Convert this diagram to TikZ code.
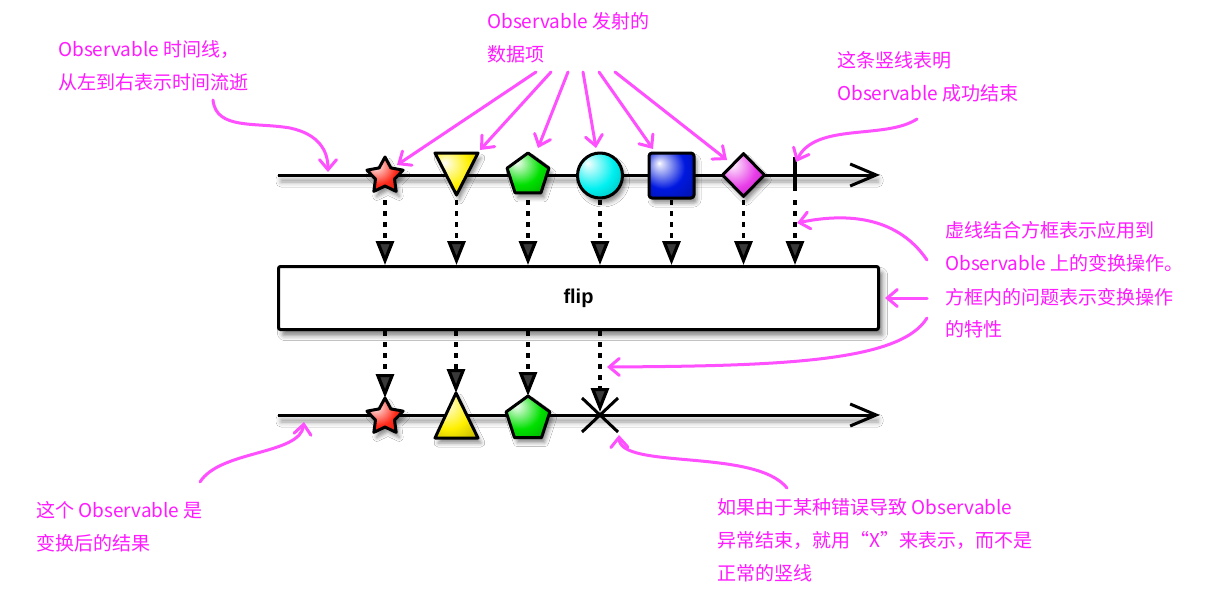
\documentclass[tikz,border=0pt]{standalone}
\usepackage{fontspec}
\setmainfont{Noto Sans CJK SC}
\newfontfamily\flipfont{Liberation Sans}
\usetikzlibrary{arrows.meta,shapes.geometric,shadows.blur}
\definecolor{magtext}{HTML}{FF1AFF}
\definecolor{magarrow}{HTML}{FF50FF}
\definecolor{cred}{HTML}{FF2A1A}
\definecolor{cyellow}{HTML}{FFF000}
\definecolor{cgreen}{HTML}{00E000}
\definecolor{ccyan}{HTML}{00F0F0}
\definecolor{cblue}{HTML}{0018E0}
\definecolor{cmag}{HTML}{E83CE8}
\colorlet{glosscol}{red}
\pgfdeclareradialshading[glosscol]{gloss}{\pgfpoint{-14bp}{14bp}}{%
 color(0bp)=(white); color(3bp)=(glosscol!15!white); color(24bp)=(glosscol); color(42bp)=(glosscol!75!black); color(70bp)=(glosscol!70!black)}
\tikzset{
 glosscolor/.code={\colorlet{glosscol}{#1}},
 glossy/.style={glosscolor=#1, shade, shading=gloss, draw=black, line width=3pt, line join=round},
 shshadow/.style={blur shadow={shadow xshift=3pt, shadow yshift=-5pt, shadow blur radius=4pt, shadow opacity=45}},
 timeline/.style={line width=3pt, -{Straight Barb[length=26pt,width=22pt]}},
 flow/.style={line width=3.2pt, dash pattern=on 5pt off 6pt, -{Triangle[length=24pt,width=18pt]}},
 note/.style={text=magtext, anchor=base west, inner sep=0pt, font=\fontsize{19pt}{23pt}\selectfont},
 callout/.style={magarrow, line width=3pt, line cap=round, -{Straight Barb[length=10pt,width=17pt,line cap=round]}},
}
\begin{document}
\begin{tikzpicture}[x=1pt,y=-1pt]
\useasboundingbox[fill=white] (0,0) rectangle (1210,600);

% ---- line shadows
\path[blur shadow={shadow xshift=2pt, shadow yshift=-5pt, shadow blur radius=5pt, shadow opacity=40}] (279,174) rectangle (876,177);
\path[blur shadow={shadow xshift=2pt, shadow yshift=-5pt, shadow blur radius=5pt, shadow opacity=40}] (279,414) rectangle (876,417);

% ---- timelines
\coordinate (L1s) at (278,175);
\coordinate (L1e) at (880,175);
\coordinate (L2s) at (278,415);
\coordinate (L2e) at (880,415);
\draw[timeline] (L1s) -- (L1e);
\draw[timeline] (L2s) -- (L2e);

% ---- top items
\node[star, star points=5, star point ratio=1.9, minimum size=38pt, inner sep=0pt, glossy=cred, shshadow] (s1) at (385,176) {};
\coordinate (t1a) at (435,153);
\coordinate (t1b) at (478,153);
\coordinate (t1c) at (456.5,195);
\draw[glossy=cyellow, shshadow] (t1a) -- (t1b) -- (t1c) -- cycle;
\node[regular polygon, regular polygon sides=5, minimum size=44pt, inner sep=0pt, glossy=cgreen, shshadow] (p1) at (528,175) {};
\node[circle, minimum size=45pt, inner sep=0pt, glossy=ccyan, shshadow] (c1) at (600,175.5) {};
\node[rectangle, rounded corners=3pt, minimum size=45pt, inner sep=0pt, glossy=cblue, shshadow] (q1) at (671.5,175.5) {};
\node[diamond, minimum width=43pt, minimum height=44pt, inner sep=0pt, glossy=cmag, shshadow] (d1) at (743.5,175) {};
\coordinate (k1) at (795,157);
\coordinate (k2) at (795,191);
\draw[line width=3.5pt] (k1) -- (k2);

% ---- box
\node[draw, line width=3pt, rounded corners=2pt, minimum width=600pt, minimum height=63pt, fill=white,
  blur shadow={shadow xshift=4pt, shadow yshift=-6pt, shadow blur radius=5pt, shadow opacity=50}]
  (box) at (578.5,298) {\flipfont\bfseries\fontsize{20pt}{24pt}\selectfont flip};

% ---- flows above box
\coordinate (fy) at (0,200);
\draw[flow] (s1 |- fy) -- (s1 |- box.north);
\draw[flow] (t1c |- fy) -- (t1c |- box.north);
\draw[flow] (p1 |- fy) -- (p1 |- box.north);
\draw[flow] (c1 |- fy) -- (c1 |- box.north);
\draw[flow] (q1 |- fy) -- (q1 |- box.north);
\draw[flow] (d1 |- fy) -- (d1 |- box.north);
\draw[flow] (k2 |- fy) -- (k2 |- box.north);

% ---- bottom items
\node[star, star points=5, star point ratio=1.9, minimum size=38pt, inner sep=0pt, glossy=cred, shshadow] (s2) at (385,417) {};
\coordinate (t2a) at (456,393);
\coordinate (t2b) at (478,438);
\coordinate (t2c) at (435,438);
\draw[glossy=cyellow, shshadow] (t2a) -- (t2b) -- (t2c) -- cycle;
\node[regular polygon, regular polygon sides=5, minimum size=46pt, inner sep=0pt, glossy=cgreen, shshadow] (p2) at (528,419) {};
\coordinate (x1) at (582,398);
\coordinate (x2) at (618,432);
\coordinate (x3) at (618,398);
\coordinate (x4) at (582,432);
\coordinate (xc) at (600,412);
\draw[line width=3pt] (x1) -- (x2) (x3) -- (x4);

% ---- flows below box
\coordinate (s2t) at (385,398);
\coordinate (p2t) at (528,396);
\draw[flow] (s2 |- box.south) -- (s2t);
\draw[flow] (t2a |- box.south) -- (t2a);
\draw[flow] (p2 |- box.south) -- (p2t);
\draw[flow] (xc |- box.south) -- (xc);

% ---- notes
\node[note] (n1a) at (58,56) {Observable 时间线，};
\node[note] (n1b) at (58,89) {从左到右表示时间流逝};
\node[note] (n2a) at (487,28) {Observable 发射的};
\node[note] (n2b) at (487,61) {数据项};
\node[note] (n3a) at (837,67) {这条竖线表明};
\node[note] (n3b) at (837,100) {Observable 成功结束};
\node[note] (n4a) at (945,237) {虚线结合方框表示应用到};
\node[note] (n4b) at (945,270) {Observable 上的变换操作。};
\node[note] (n4c) at (945,304) {方框内的问题表示变换操作};
\node[note] (n4d) at (945,336) {的特性};
\node[note] (n5a) at (36,517) {这个 Observable 是};
\node[note] (n5b) at (36,550) {变换后的结果};
\node[note] (n6a) at (717,514) {如果由于某种错误导致 Observable};
\node[note] (n6b) at (717,547) {异常结束，就用“X”来表示，而不是};
\node[note] (n6c) at (717,580) {正常的竖线};

% ---- callout arrows
\coordinate (aA) at (213,100);
\coordinate (aAm) at (290,128);
\coordinate (aAe) at (328,172);
\draw[callout] (aA) .. controls (216,130) and (255,122) .. (aAm) .. controls (318,134) and (328,150) .. (aAe);

\coordinate (b1) at (536,72);  \coordinate (e1) at (397,165);
\coordinate (b2) at (551,72);  \coordinate (e2) at (480,150);
\coordinate (b3) at (568,72);  \coordinate (e3) at (538,148);
\coordinate (b4) at (583,72);  \coordinate (e4) at (596,148);
\coordinate (b5) at (599,72);  \coordinate (e5) at (653,149);
\coordinate (b6) at (615,72);  \coordinate (e6) at (727,160);
\draw[callout] (b1) -- (e1);
\draw[callout] (b2) -- (e2);
\draw[callout] (b3) -- (e3);
\draw[callout] (b4) -- (e4);
\draw[callout] (b5) -- (e5);
\draw[callout] (b6) -- (e6);

\coordinate (cC) at (917,119);
\coordinate (cCe) at (796,162);
\draw[callout] (cC) .. controls (885,140) and (815,122) .. (cCe);

\coordinate (cD) at (927,260);
\coordinate (cDe) at (797,223);
\draw[callout] (cD) .. controls (895,213) and (840,214) .. (cDe);

\coordinate (cE) at (927,298);
\coordinate (cEe) at (885,298);
\draw[callout] (cE) -- (cEe);

\coordinate (cF) at (927,318);
\coordinate (cFe) at (607,367);
\draw[callout] (cF) .. controls (900,362) and (780,366) .. (cFe);

\coordinate (cG) at (200,482);
\coordinate (cGe) at (304,422);
\draw[callout] (cG) .. controls (220,450) and (300,455) .. (cGe);

\coordinate (cH) at (787,488);
\coordinate (cHe) at (619,435);
\draw[callout] (cH) .. controls (755,448) and (620,470) .. (cHe);
\end{tikzpicture}
\end{document}
